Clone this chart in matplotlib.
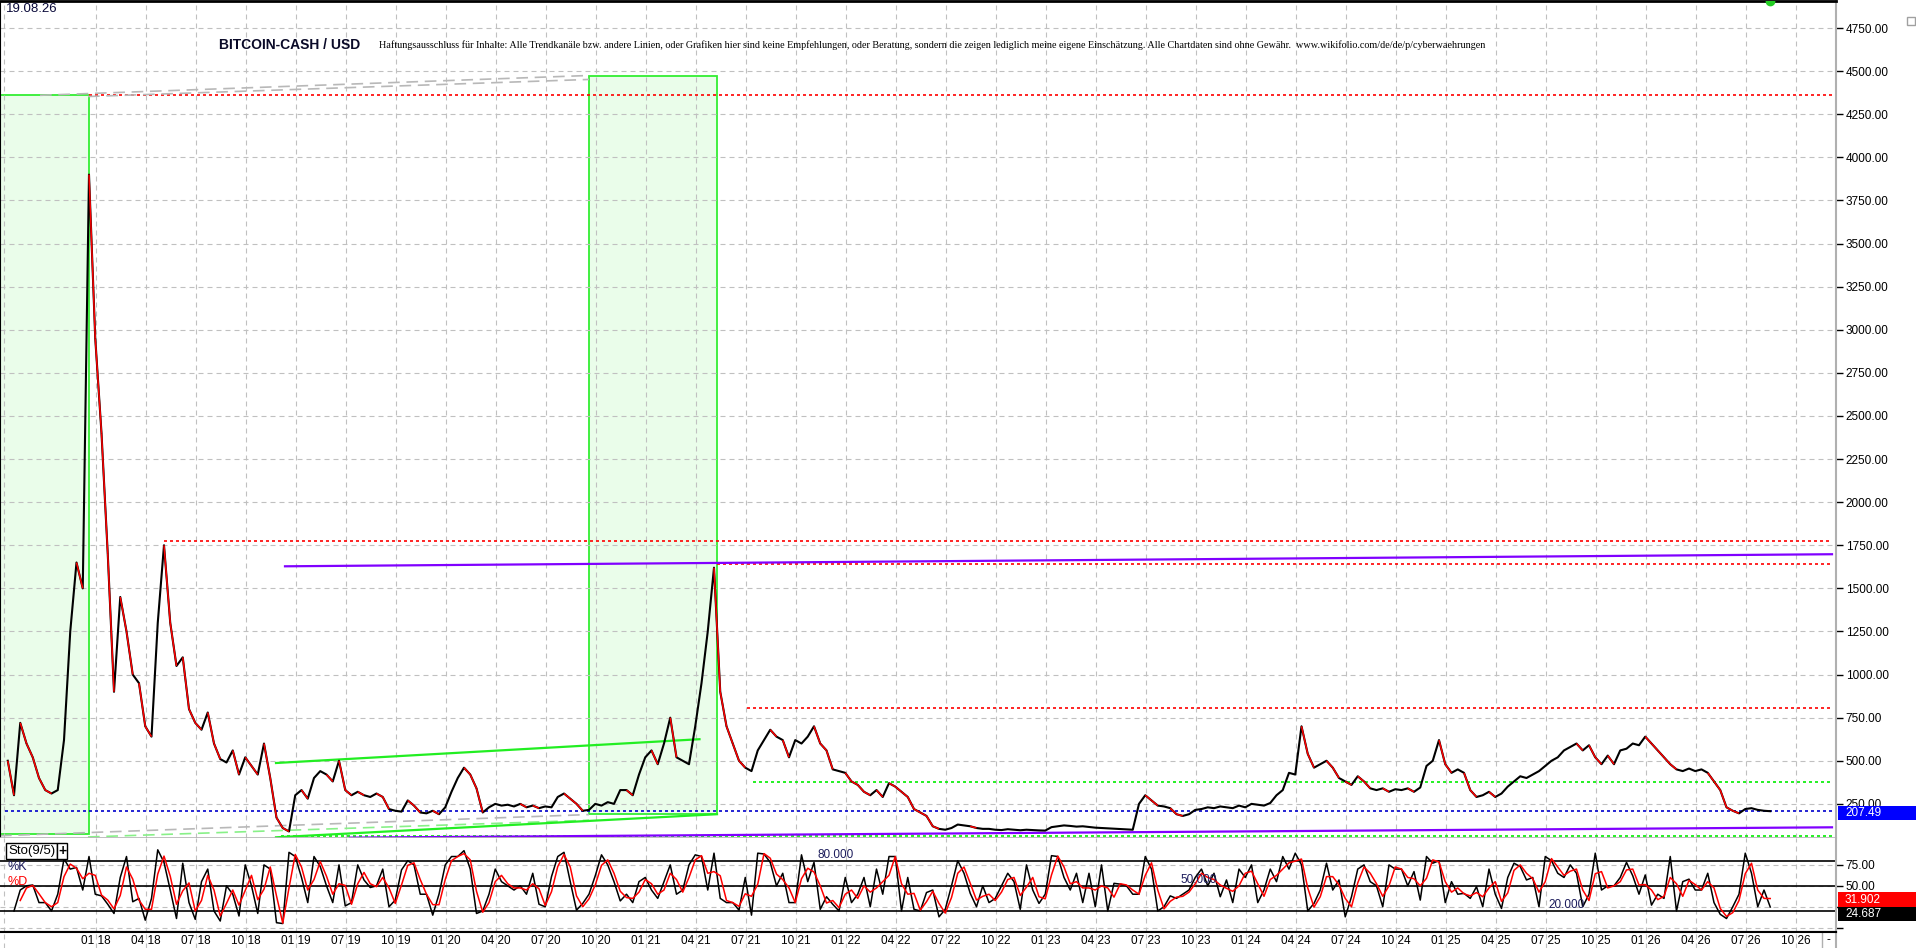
#### BITCOIN-CASH / USD chart with Sto(9/5) panel ####
import matplotlib
matplotlib.use("Agg")
import matplotlib.pyplot as plt
import matplotlib.transforms as mtransforms
from matplotlib.collections import LineCollection
from matplotlib.patches import Rectangle
from matplotlib.ticker import FormatStrFormatter
import numpy as np
import pandas as pd

plt.rcParams['font.family'] = ['Liberation Sans', 'DejaVu Sans']

W, H, DPI = 1916, 948, 100

## Data
# x axis is counted in label steps (quarters), 0 = "01 18"
x_labels = ["01 18", "04 18", "07 18", "10 18", "01 19", "07 19", "10 19",
            "01 20", "04 20", "07 20", "10 20", "01 21", "04 21", "07 21",
            "10 21", "01 22", "04 22", "07 22", "10 22", "01 23", "04 23",
            "07 23", "10 23", "01 24", "04 24", "07 24", "10 24", "01 25",
            "04 25", "07 25", "10 25", "01 26", "04 26", "07 26", "10 26"]
x_start, x_step = -1.755, 0.125

price = [
    500, 300, 720, 600, 520, 400, 330, 310, 330, 620,
    1250, 1650, 1500, 3900, 2950, 2400, 1700, 900, 1450, 1250,
    1000, 950, 700, 640, 1300, 1750, 1300, 1050, 1100, 800,
    720, 680, 780, 600, 510, 490, 560, 420, 520, 470,
    420, 600, 400, 170, 110, 90, 300, 330, 280, 400,
    440, 420, 380, 500, 330, 300, 320, 300, 290, 310,
    290, 220, 210, 205, 270, 240, 200, 195, 210, 190,
    230, 320, 400, 460, 420, 340, 200, 230, 250, 240,
    245, 235, 250, 230, 240, 225, 235, 230, 290, 310,
    280, 250, 210, 215, 250, 240, 260, 250, 330, 330,
    300, 420, 520, 560, 480, 600, 750, 520, 500, 480,
    700, 950, 1250, 1620, 900, 700, 600, 500, 460, 440,
    560, 620, 680, 640, 620, 520, 620, 600, 640, 700,
    600, 560, 450, 440, 430, 380, 360, 320, 300, 330,
    290, 370, 350, 320, 290, 220, 200, 180, 120, 105,
    100, 110, 130, 125, 120, 110, 105, 105, 100, 98,
    103, 100, 97, 100, 98, 96, 95, 115, 120, 125,
    122, 118, 120, 116, 112, 110, 108, 106, 104, 102,
    100, 250, 300, 270, 240, 235, 225, 190, 180, 190,
    215, 220, 230, 225, 235, 230, 225, 240, 230, 250,
    245, 240, 255, 300, 330, 430, 420, 700, 540, 460,
    480, 500, 460, 400, 380, 360, 410, 380, 340, 330,
    340, 320, 335, 330, 340, 320, 345, 470, 500, 620,
    480, 430, 450, 430, 330, 290, 300, 320, 290, 310,
    350, 380, 410, 400, 420, 440, 470, 500, 520, 560,
    580, 600, 560, 590, 520, 480, 530, 480, 560, 570,
    600, 590, 640, 600, 560, 520, 480, 450, 440, 455,
    440, 450, 430, 380, 330, 230, 210, 195, 220, 225,
    215, 210, 207.49]

stoch_k = [
    np.nan, 20, 45, 50, 51, 30, 30, 20, 40, 82,
    70, 72, 45, 85, 40, 38, 28, 17, 60, 85,
    31, 35, 9, 35, 93, 78, 45, 11, 77, 30,
    10, 55, 70, 20, 8, 50, 40, 14, 75, 50,
    17, 75, 70, 6, 5, 90, 85, 60, 30, 85,
    73, 50, 30, 75, 26, 30, 75, 57, 48, 50,
    70, 25, 33, 69, 80, 75, 40, 40, 15, 40,
    75, 85, 85, 92, 70, 17, 20, 40, 70, 55,
    50, 45, 50, 40, 65, 28, 25, 61, 85, 90,
    55, 21, 29, 40, 62, 87, 75, 55, 32, 40,
    30, 55, 60, 45, 35, 55, 75, 40, 45, 75,
    87, 85, 45, 89, 35, 30, 30, 21, 60, 15,
    89, 88, 78, 50, 65, 30, 30, 87, 55, 78,
    22, 37, 28, 20, 60, 30, 40, 60, 25, 70,
    40, 85, 85, 20, 60, 22, 20, 42, 45, 13,
    22, 50, 80, 65, 41, 25, 50, 30, 35, 50,
    65, 55, 22, 75, 45, 29, 40, 86, 85, 60,
    45, 65, 30, 65, 25, 75, 20, 53, 52, 50,
    40, 40, 85, 70, 20, 25, 38, 35, 40, 45,
    60, 70, 50, 65, 37, 57, 30, 70, 60, 75,
    30, 45, 70, 55, 85, 70, 89, 75, 20, 29,
    45, 77, 45, 57, 13, 37, 70, 75, 55, 50,
    25, 75, 70, 70, 50, 67, 33, 85, 77, 80,
    30, 55, 40, 41, 35, 49, 25, 70, 40, 23,
    60, 77, 73, 57, 60, 25, 85, 80, 65, 60,
    75, 65, 25, 40, 89, 45, 50, 50, 60, 78,
    62, 40, 63, 27, 40, 35, 85, 20, 55, 58,
    45, 45, 65, 30, 16, 11, 25, 40, 89, 65,
    25, 45, 24.687]
stoch_last = [31.902, 24.687]   # %D, %K as shown in the boxes
stoch_levels = [80, 50, 20]

# drawn analysis objects
green_boxes = [(-1.91, 73, -0.136, 4360), (9.86, 190, 12.438, 4474)]
red_levels = [(-0.136, 4360), (1.37, 1773), (12.438, 1640), (13.03, 804)]
green_levels = [(13.15, 375), (3.7, 62)]
last_price = 207.49
purple_lines = [(3.79, 1628, 34.73, 1698), (5.09, 54, 34.73, 114)]
green_lines = [(3.61, 487, 12.08, 625), (3.61, 56, 12.43, 190)]
gray_lines = [(-1.11, 4360, 9.87, 4475), (-0.15, 4353, 9.87, 4452),
              (-1.91, 65, 9.87, 188)]
lightgreen_lines = [(-0.15, 58, 9.87, 155)]
x_end = 34.73

disclaimer = ("Haftungsausschluss für Inhalte: Alle Trendkanäle bzw. andere Linien, oder Grafiken hier "
              "sind keine Empfehlungen, oder Beratung, sondern die zeigen lediglich meine eigene "
              "Einschätzung. Alle Chartdaten sind ohne Gewähr.  www.wikifolio.com/de/de/p/cyberwaehrungen")

## Figure
fig = plt.figure(figsize=(W / DPI, H / DPI), dpi=DPI)
ax = fig.add_axes([0, 1 - 838 / H, 1836 / W, 837 / H])
axs = fig.add_axes([0, 1 - 932 / H, 1836 / W, 94 / H])
axl = fig.add_axes([0, 0, 1836 / W, 16 / H])

xlim = (-1.91, 34.81)
ylim = (52, 4907)
slim = (-5.1, 107.1)
grid_kw = dict(color='#c0c0c0', linestyle=(0, (4.5, 3.6)), linewidth=0.8)
xt = np.arange(len(x_labels))

q = x_start + x_step * np.arange(len(price))
p = np.array(price, dtype=float)

for a in (ax, axs, axl):
    a.set_xlim(*xlim)
    a.set_xticks(xt)
    a.set_xticks([-1.83], minor=True)
    a.tick_params(axis='x', which='both', length=0, labelbottom=False)
    a.grid(True, axis='x', which='both', **grid_kw)
    for s in a.spines.values():
        s.set_visible(False)

# main panel
ax.set_ylim(*ylim)
ax.yaxis.tick_right()
ax.set_yticks(np.arange(250, 4751, 250))
ax.yaxis.set_major_formatter(FormatStrFormatter('%.2f'))
ax.tick_params(axis='y', direction='out', length=5, width=1, pad=2, labelsize=8.5)
ax.grid(True, axis='y', **grid_kw)
ax.spines['top'].set_visible(True)
ax.spines['top'].set_linewidth(2)
ax.spines['left'].set_visible(True)
ax.spines['right'].set_visible(True)
ax.spines['right'].set_color('#b0b0b0')
ax.spines['right'].set_linewidth(1.5)
ax.spines['bottom'].set_visible(True)
ax.spines['bottom'].set_color('#b4b4b4')
ax.spines['bottom'].set_linewidth(1.2)

for x0, y0, x1, y1 in green_boxes:
    ax.add_patch(Rectangle((x0, y0), x1 - x0, y1 - y0, facecolor='#eafdea',
                           edgecolor='#33ee33', linewidth=1.3, zorder=1))

dot = (0, (1.8, 1.8))
for x0, y0 in red_levels:
    ax.plot([x0, x_end], [y0, y0], color='#ff0000', linestyle=dot, lw=1.2, zorder=2)
for x0, y0 in green_levels:
    ax.plot([x0, x_end], [y0, y0], color='#00ee00', linestyle=dot, lw=1.2, zorder=2)
ax.plot([q[0] - 0.05, x_end], [last_price, last_price], color='#0000cc',
        linestyle=dot, lw=1.2, zorder=2)
for x0, y0, x1, y1 in gray_lines:
    ax.plot([x0, x1], [y0, y1], color='#b8b8b8', linestyle=(0, (7, 4)), lw=1.2, zorder=2)
for x0, y0, x1, y1 in lightgreen_lines:
    ax.plot([x0, x1], [y0, y1], color='#88f088', linestyle=(0, (7, 4)), lw=1.2, zorder=2)
for x0, y0, x1, y1 in green_lines:
    ax.plot([x0, x1], [y0, y1], color='#22ee22', lw=1.6, zorder=2)
for x0, y0, x1, y1 in purple_lines:
    ax.plot([x0, x1], [y0, y1], color='#8000ff', lw=1.6, zorder=2)

# price: black line, sharper drops in red
ax.plot(q, p, color='black', lw=1.5, zorder=3)
pts = np.column_stack([q, p])
segs = np.stack([pts[:-1], pts[1:]], axis=1)
down = np.diff(p) < -0.05 * p[:-1]
ax.add_collection(LineCollection(segs[down], colors='#ff0000', linewidths=1.1, zorder=4))

ax.plot([33.49], [ylim[1]], 'o', color='#22cc22', ms=6, zorder=5)

# stochastic panel
k = np.array(stoch_k, dtype=float)
d = pd.Series(k).rolling(2).mean().to_numpy()
axs.set_ylim(*slim)
axs.yaxis.tick_right()
axs.set_yticks([0, 25, 50, 75])
axs.set_yticklabels(['', '', '50.00', '75.00'])
axs.tick_params(axis='y', direction='out', length=5, width=1, pad=2, labelsize=8.5)
axs.grid(True, axis='y', **grid_kw)
axs.spines['right'].set_visible(True)
axs.spines['right'].set_color('#b0b0b0')
axs.spines['right'].set_linewidth(1.5)
axs.spines['bottom'].set_visible(True)
axs.spines['bottom'].set_linewidth(1.5)
for lv in stoch_levels:
    axs.axhline(lv, color='black', lw=1.2, zorder=2)
axs.plot(q, k, color='black', lw=1.1, zorder=3)
axs.plot(q, d, color='#ff0000', lw=1.1, zorder=4)

lvl_col = '#1c1c5c'
axs.text(14.43, 80, '80.000', fontsize=8.5, color=lvl_col, va='bottom', zorder=5)
axs.text(21.69, 50, '50.000', fontsize=8.5, color=lvl_col, va='bottom', zorder=5)
axs.text(29.05, 20, '20.000', fontsize=8.5, color=lvl_col, va='bottom', zorder=5)

axs.text(8 / 1836, 0.862, 'Sto(9/5)', transform=axs.transAxes, fontsize=9.5, va='center',
         bbox=dict(boxstyle='square,pad=0.15', facecolor='white', edgecolor='black', lw=1), zorder=6)
axs.text(58 / 1836, 0.862, '+', transform=axs.transAxes, fontsize=10, weight='bold', va='center',
         bbox=dict(boxstyle='square,pad=0.05', facecolor='white', edgecolor='black', lw=1), zorder=6)
axs.text(8 / 1836, 0.69, '%K', transform=axs.transAxes, fontsize=9, color=lvl_col, va='center', zorder=6)
axs.text(8 / 1836, 0.53, '%D', transform=axs.transAxes, fontsize=9, color='#ff0000', va='center', zorder=6)

# label strip
axl.set_ylim(0, 1)
axl.set_yticks([])
axl.spines['top'].set_visible(True)
axl.spines['top'].set_linewidth(1.5)
axl.spines['right'].set_visible(True)
axl.spines['right'].set_color('#b0b0b0')
axl.spines['right'].set_linewidth(1.5)
for xi, lab in zip(xt, x_labels):
    axl.text(xi, 0.45, lab, ha='center', va='center', fontsize=8.5)
axl.axvline(34.53, color='#b0b0b0', lw=1)
axl.text(34.65, 0.5, '-', ha='center', va='center', fontsize=8.5)

# value boxes on the right scale
bx = 1838 / W
tm = mtransforms.blended_transform_factory(fig.transFigure, ax.transData)
upp = (ylim[1] - ylim[0]) / 837
fig.add_artist(Rectangle((bx, last_price - 9 * upp), 1 - bx, 14 * upp, transform=tm,
                         facecolor='#0000ff', edgecolor='none'))
fig.text(1845 / W, last_price - 2 * upp, f'{last_price:.2f}', transform=tm, color='white',
         fontsize=8.5, va='center')

ts = mtransforms.blended_transform_factory(fig.transFigure, axs.transData)
ups = (slim[1] - slim[0]) / 94
edge = stoch_last[1]
fig.add_artist(Rectangle((bx, edge), 1 - bx, 15 * ups, transform=ts,
                         facecolor='#ff0000', edgecolor='none'))
fig.add_artist(Rectangle((bx, edge - 14 * ups), 1 - bx, 14 * ups, transform=ts,
                         facecolor='black', edgecolor='none'))
fig.text(1845 / W, edge + 7.5 * ups, f'{stoch_last[0]:.3f}', transform=ts, color='white',
         fontsize=8.5, va='center')
fig.text(1845 / W, edge - 7 * ups, f'{stoch_last[1]:.3f}', transform=ts, color='white',
         fontsize=8.5, va='center')

fig.add_artist(Rectangle((1907 / W, 1 - 25 / H), 8 / W, 8 / H, transform=fig.transFigure,
                         facecolor='white', edgecolor='#a0a0a0', lw=1))

# header texts
fig.text(6 / W, 1 - 9 / H, '19.08.26', fontsize=9.5, color='#0a0a3a', va='center')
fig.text(219 / W, 1 - 45 / H, 'BITCOIN-CASH / USD', fontsize=10, weight='bold',
         color='#0a0a28', va='center')
disc = fig.text(379 / W, 1 - 45 / H, disclaimer, family=['Liberation Serif', 'DejaVu Serif'],
                fontsize=9, va='center')
fig.canvas.draw()
disc.set_fontsize(9 * 1101 / disc.get_window_extent().width)

fig.savefig("out.png", dpi=DPI)
